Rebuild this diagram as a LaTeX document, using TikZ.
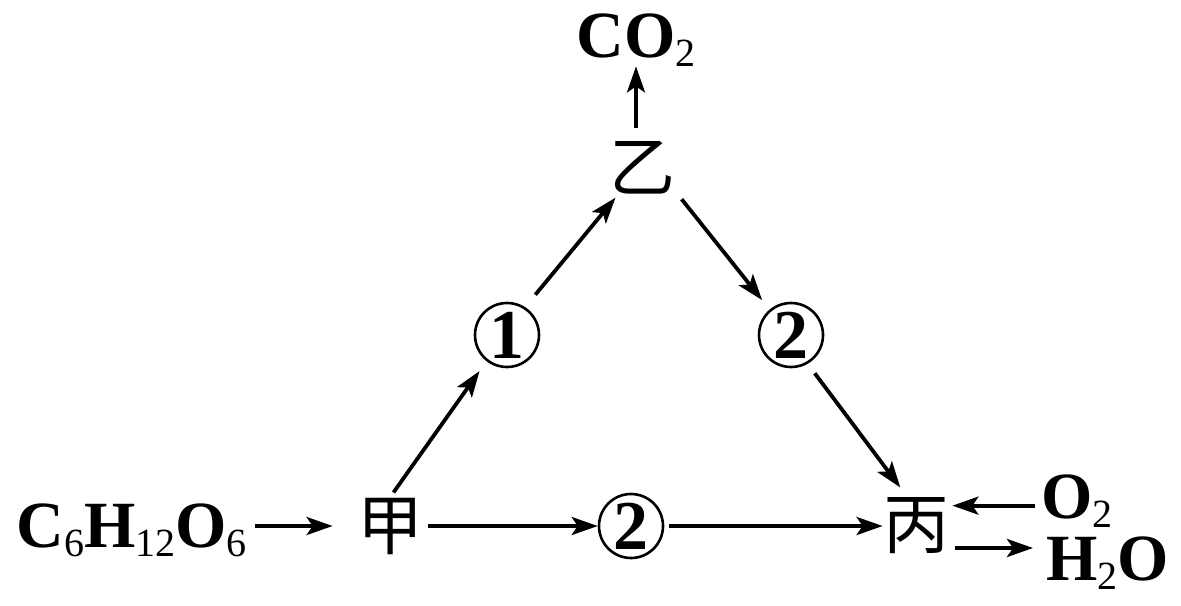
\documentclass[tikz,border=0pt]{standalone}
\usepackage{fontspec}
\setmainfont{Liberation Serif}
\newfontfamily\cjk{Noto Sans CJK SC}
\usetikzlibrary{arrows.meta}
\newcommand{\lowsub}[1]{\raisebox{-4.5pt}{\fontsize{20}{20}\selectfont\mdseries #1}}

\begin{document}
\begin{tikzpicture}[x=0.5pt,y=-0.5pt,
    arr/.style={-{Stealth[length=13pt,width=9pt,inset=3pt]},line width=1.9pt},
    circ/.style={draw=black,circle,line width=1.3pt,minimum size=32pt,inner sep=0pt,
        font=\fontsize{35}{35}\selectfont\bfseries},
    chem/.style={inner sep=0pt,font=\fontsize{33}{36}\selectfont\bfseries},
    hanzi/.style={inner sep=0pt,font=\fontsize{33}{36}\selectfont\cjk}]
    \useasboundingbox (0,0) rectangle (1181,605);

    % top of the triangle
    \node[chem,anchor=base] (co2) at (636,57) {CO\lowsub{2}};
    \node[hanzi] (yi) at (642,168) {乙};

    % the two sides
    \node[circ] (c1) at (507,335) {1};
    \node[circ] (c2r) at (791,335) {2};

    % bottom row
    \node[chem,anchor=base west] (glc) at (16,547) {C\lowsub{6}H\lowsub{12}O\lowsub{6}};
    \node[hanzi] (jia) at (390,526) {甲};
    \node[circ] (c2b) at (631,526) {2};
    \node[hanzi] (bing) at (916,526) {丙};
    \node[chem,anchor=base west] (o2) at (1041,518) {O\lowsub{2}};
    \node[chem,anchor=base west] (h2o) at (1046,580) {H\lowsub{2}O};

    \draw[arr,shorten <=6.5pt] (yi.north -| co2.south) -- (co2.south);
    \draw[arr,shorten <=3pt,shorten >=6pt] (jia.north) -- (c1.232);
    \draw[arr,shorten <=8pt,shorten >=1.8pt] (c1.57) -- (yi.228);
    \draw[arr,shorten <=5pt,shorten >=6pt] (yi.325) -- (c2r.130);
    \draw[arr,shorten <=5.9pt,shorten >=6.3pt] (c2r.300) -- (bing.106);
    \draw[arr,shorten <=4pt,shorten >=12pt] (glc.east |- jia) -- (jia);
    \draw[arr,shorten <=2.5pt] (jia) -- (c2b);
    \draw[arr,shorten <=2.5pt] (c2b) -- (bing);
    \draw[arr,shorten <=3pt,shorten >=1.5pt] ([yshift=-2.5pt]o2.west) -- ([yshift=-2.5pt]o2.west -| bing.east);
    \draw[arr,shorten <=3pt,shorten >=6.5pt] ([yshift=-11pt]bing.east) -- ([yshift=-11pt]bing.east -| h2o.west);
\end{tikzpicture}
\end{document}
